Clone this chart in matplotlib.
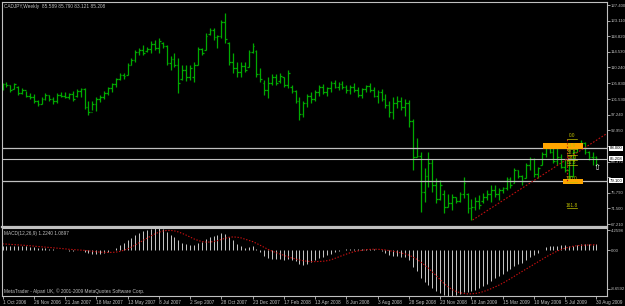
import numpy as np
import matplotlib
matplotlib.use("Agg")
from matplotlib import pyplot as plt

# weekly CADJPY bars, week index 0 = 1 Oct 2006, last = 30 Aug 2009
highs = [106.0, 106.2, 105.4, 106.0, 105.2, 104.6, 103.8, 103.2, 103.0, 101.3,
         102.1, 103.2, 102.7, 102.1, 103.2, 103.5, 103.5, 103.2, 103.8, 104.3,
         104.6, 104.6, 101.0, 101.0, 102.1, 102.7, 103.8, 104.9, 106.0, 107.3,
         108.7, 108.7, 111.5, 112.8, 115.0, 115.6, 116.4, 115.8, 117.5, 117.8,
         118.3, 117.2, 116.4, 113.4, 114.2, 112.8, 110.9, 110.9, 110.9, 111.7,
         115.8, 115.6, 119.7, 121.1, 121.1, 119.2, 123.3, 125.2, 117.2, 114.2,
         111.7, 111.7, 111.7, 115.0, 117.0, 115.0, 110.1, 106.8, 107.6, 108.4,
         108.4, 108.7, 107.6, 109.5, 105.4, 104.0, 102.1, 101.0, 103.0, 103.5,
         104.0, 105.4, 105.6, 105.0, 106.5, 106.8, 106.2, 106.5, 105.5, 105.5,
         106.0, 105.0, 104.5, 105.5, 106.0, 105.0, 104.0, 104.2, 103.0, 101.0,
         102.0, 102.5, 102.0, 101.5, 101.3, 96.0, 90.8, 87.0, 82.5, 87.0,
         85.0, 79.8, 79.3, 76.5, 75.5, 75.5, 74.6, 76.0, 80.1, 75.8,
         74.1, 74.6, 75.2, 75.7, 76.5, 77.9, 77.9, 77.1, 77.4, 80.1,
         80.1, 82.6, 82.0, 80.7, 84.0, 85.6, 85.3, 82.9, 87.0, 88.9,
         89.5, 88.0, 88.4, 86.5, 85.0, 84.8, 87.5, 89.5, 90.3, 89.8,
         87.4, 87.0, 85.790]
lows = [104.0, 104.9, 103.5, 104.2, 102.7, 103.0, 102.1, 101.6, 100.5, 99.6,
        100.2, 101.3, 101.0, 100.2, 100.5, 102.1, 101.8, 101.6, 101.0, 102.1,
        102.1, 98.8, 97.2, 98.5, 98.3, 100.7, 101.6, 102.7, 103.5, 104.9,
        106.8, 107.1, 108.2, 110.9, 111.7, 113.7, 113.7, 114.5, 114.2, 115.0,
        114.2, 115.6, 110.9, 109.5, 110.4, 103.2, 106.8, 106.5, 106.8, 106.2,
        110.9, 113.7, 115.0, 119.2, 117.8, 115.6, 118.3, 117.0, 110.9, 108.7,
        107.6, 107.6, 109.0, 110.4, 114.2, 107.6, 106.2, 102.7, 101.8, 105.4,
        105.4, 106.0, 104.9, 104.6, 103.2, 100.5, 95.8, 96.5, 99.5, 100.5,
        101.0, 102.5, 103.0, 102.5, 103.5, 104.5, 104.0, 104.2, 103.2, 103.0,
        103.5, 102.0, 101.8, 103.5, 103.5, 102.0, 100.5, 101.0, 99.0, 96.5,
        96.0, 99.0, 98.5, 97.0, 94.0, 82.0, 85.6, 70.5, 73.3, 77.4,
        76.0, 73.0, 73.8, 70.2, 71.9, 71.0, 73.0, 73.3, 74.4, 70.2,
        68.3, 71.1, 71.3, 73.0, 73.8, 73.3, 74.6, 73.8, 75.7, 76.6,
        77.1, 78.5, 79.8, 77.9, 79.8, 82.0, 80.1, 79.8, 83.4, 85.6,
        86.7, 84.0, 83.4, 82.5, 81.5, 78.8, 80.0, 87.0, 88.1, 86.5,
        84.8, 83.4, 83.121]
opens = [104.5, 105.6, 105.3, 104.2, 105.0, 103.2, 104.0, 102.5, 102.0, 101.0,
         100.2, 101.6, 102.6, 101.5, 101.0, 102.8, 102.5, 102.0, 102.9, 102.3,
         103.9, 104.2, 99.5, 98.0, 100.2, 101.5, 102.2, 103.3, 104.5, 105.6,
         107.0, 108.2, 108.2, 111.0, 112.4, 114.5, 115.0, 114.8, 115.4, 116.8,
         115.5, 117.0, 116.2, 111.5, 112.5, 111.0, 107.0, 109.5, 107.5, 107.5,
         110.9, 115.2, 115.0, 119.5, 120.5, 118.5, 118.8, 122.8, 117.0, 111.8,
         110.0, 109.0, 110.5, 110.4, 114.5, 114.8, 108.5, 106.0, 104.0, 106.0,
         107.5, 106.5, 107.5, 105.5, 105.0, 103.8, 101.0, 97.5, 100.5, 102.5,
         101.5, 103.5, 104.8, 103.5, 104.5, 106.0, 105.0, 105.8, 104.8, 104.0,
         105.0, 104.0, 102.8, 104.2, 105.2, 104.0, 102.5, 103.5, 101.5, 100.0,
         98.0, 100.5, 101.0, 99.5, 100.5, 95.5, 85.5, 86.0, 76.0, 80.5,
         84.0, 78.0, 74.0, 75.5, 72.0, 73.0, 74.5, 73.5, 75.5, 75.5,
         71.5, 72.0, 73.5, 73.5, 74.5, 75.5, 76.5, 75.5, 76.5, 77.0,
         79.5, 78.5, 82.0, 80.5, 79.8, 83.5, 85.0, 81.0, 83.4, 86.5,
         88.0, 87.0, 84.5, 85.5, 83.0, 82.0, 80.5, 87.0, 88.5, 89.5,
         87.0, 85.5, 85.589]
closes = [105.6, 105.3, 104.0, 105.6, 103.2, 104.0, 102.5, 102.0, 101.0, 100.2,
          101.6, 102.6, 101.5, 101.0, 102.8, 102.5, 102.0, 102.9, 101.5, 103.9,
          104.2, 99.5, 98.0, 100.2, 101.5, 102.2, 103.3, 104.5, 105.6, 107.0,
          108.2, 107.8, 111.0, 112.4, 114.5, 115.0, 114.2, 115.4, 116.8, 115.5,
          117.5, 116.2, 111.5, 112.5, 111.0, 106.0, 109.5, 107.5, 110.0, 110.9,
          115.2, 114.2, 119.0, 120.5, 118.5, 118.8, 122.8, 118.0, 111.8, 110.0,
          109.0, 110.5, 109.6, 114.5, 116.0, 108.5, 107.0, 104.0, 106.0, 107.5,
          106.0, 108.0, 105.5, 108.8, 103.8, 101.0, 97.5, 100.5, 102.5, 101.5,
          103.5, 104.8, 103.5, 104.5, 106.0, 105.0, 105.8, 104.8, 104.0, 105.0,
          104.0, 102.8, 104.2, 105.2, 104.0, 102.5, 103.5, 101.5, 100.0, 98.0,
          100.5, 101.0, 99.5, 100.5, 95.5, 85.5, 86.0, 76.0, 80.5, 84.0,
          78.0, 74.0, 78.0, 72.0, 73.0, 74.5, 73.5, 75.5, 78.5, 71.5,
          72.0, 73.5, 72.5, 74.5, 75.5, 76.5, 75.5, 76.5, 77.0, 79.5,
          78.0, 82.0, 80.5, 79.0, 83.5, 85.0, 81.0, 82.5, 86.5, 88.0,
          87.0, 84.5, 85.5, 83.0, 82.0, 80.5, 87.0, 88.5, 89.5, 87.0,
          85.5, 85.6, 85.208]

# MACD(12,26,9): main line drawn as histogram, signal as dotted line
macd_main = [0.9, 0.9, 0.85, 0.85, 0.8, 0.8, 0.75, 0.7, 0.6, 0.5,
             0.4, 0.4, 0.3, 0.2, 0.15, 0.1, 0.0, -0.05, -0.1, 0.0,
             0.05, -0.3, -0.55, -0.65, -0.65, -0.6, -0.45, -0.25, 0.05, 0.45,
             0.95, 1.35, 1.9, 2.45, 3.0, 3.4, 3.7, 3.95, 4.15, 4.2598,
             4.2, 4.0, 3.5, 3.0, 2.6, 1.9, 1.5, 1.2, 1.05, 1.0,
             1.4, 1.6, 2.1, 2.6, 2.8, 2.9, 3.3, 3.2, 2.6, 1.9,
             1.3, 0.9, 0.5, 0.6, 0.8, 0.3, -0.3, -1.0, -1.4, -1.6,
             -1.7, -1.7, -1.8, -1.6, -1.8, -2.1, -2.6, -2.7, -2.5, -2.2,
             -1.9, -1.5, -1.2, -0.9, -0.6, -0.3, -0.1, 0.1, 0.2, 0.3,
             0.3, 0.2, 0.2, 0.3, 0.3, 0.2, 0.0, -0.2, -0.5, -0.9,
             -1.0, -1.0, -1.2, -1.3, -1.9, -3.2, -4.0, -5.3, -6.0, -6.5,
             -7.2, -7.8, -8.1, -8.5, -8.6592, -8.6, -8.5, -8.3, -7.9, -7.9,
             -7.8, -7.5, -7.2, -6.8, -6.3, -5.8, -5.3, -4.9, -4.5, -4.0,
             -3.5, -3.0, -2.6, -2.3, -1.8, -1.2, -0.9, -0.5, 0.1, 0.6,
             0.8, 0.9, 0.9, 1.0, 1.1, 0.8, 0.9, 1.1, 1.2, 1.2,
             1.2, 1.1, 1.224]
macd_signal = [1.25, 1.2, 1.15, 1.1, 1.05, 1.0, 0.95, 0.9, 0.82, 0.75,
               0.69, 0.64, 0.58, 0.52, 0.44, 0.37, 0.29, 0.22, 0.16, 0.11,
               0.07, 0.01, -0.08, -0.17, -0.25, -0.32, -0.36, -0.38, -0.37, -0.33,
               -0.19, 0.02, 0.31, 0.65, 1.05, 1.48, 1.92, 2.35, 2.76, 3.13,
               3.45, 3.68, 3.8, 3.8, 3.71, 3.51, 3.23, 2.91, 2.55, 2.19,
               1.91, 1.69, 1.59, 1.59, 1.69, 1.85, 2.08, 2.32, 2.5, 2.56,
               2.52, 2.39, 2.16, 1.91, 1.68, 1.34, 0.96, 0.56, 0.19, -0.13,
               -0.42, -0.67, -0.93, -1.2, -1.43, -1.63, -1.81, -1.96, -2.06, -2.11,
               -2.13, -2.1, -2.06, -1.96, -1.79, -1.53, -1.24, -0.96, -0.69, -0.44,
               -0.24, -0.09, 0.03, 0.13, 0.2, 0.23, 0.22, 0.18, 0.09, -0.04,
               -0.18, -0.31, -0.48, -0.66, -0.89, -1.24, -1.67, -2.2, -2.77, -3.38,
               -4.07, -4.8, -5.56, -6.29, -6.9, -7.41, -7.76, -8.02, -8.17, -8.25,
               -8.25, -8.18, -8.04, -7.83, -7.58, -7.28, -6.94, -6.61, -6.23, -5.81,
               -5.37, -4.9, -4.43, -3.99, -3.54, -3.09, -2.64, -2.2, -1.74, -1.29,
               -0.87, -0.48, -0.12, 0.19, 0.44, 0.63, 0.79, 0.9, 0.97, 1.01,
               1.04, 1.07, 1.0897]

date_idx = list(range(0, 153, 8))
date_labels = ["1 Oct 2006", "26 Nov 2006", "21 Jan 2007", "18 Mar 2007", "13 May 2007",
               "8 Jul 2007", "2 Sep 2007", "28 Oct 2007", "23 Dec 2007", "17 Feb 2008",
               "13 Apr 2008", "8 Jun 2008", "3 Aug 2008", "28 Sep 2008", "23 Nov 2008",
               "18 Jan 2009", "15 Mar 2009", "10 May 2009", "5 Jul 2009", "30 Aug 2009"]
price_ticks = [127.400, 123.110, 118.820, 114.530, 110.240, 105.830, 101.530, 97.240,
               92.950, 88.660, 84.370, 80.080, 75.790, 71.500, 67.210]
hidden_ticks = [88.660, 80.080]   # covered by the line labels
hlines = [88.00, 79.10]
bid = 85.208

# objects drawn on the chart
trend_x = [120.3, 154.7]
trend_y = [68.3, 92.1]
fib_x = 144.4
fib_hi, fib_lo = 90.6, 78.8
fib_levels = [0.0, 23.6, 38.2, 50.0, 61.8, 100.0, 161.8]
rects = [(138.3, 148.5, 87.7, 89.5), (143.4, 148.5, 78.2, 79.7)]
arrow_at = (152.1, 82.8)

FG = "#c0c0c0"
BAR = "#00aa00"
FIB = "#c0c000"
RED = "#c01010"
plt.rcParams["font.family"] = ["Liberation Sans", "DejaVu Sans"]
FS = 3.4

fig = plt.figure(figsize=(6.25, 3.06), dpi=100, facecolor="black")
W, H = 625.0, 306.0

ax = fig.add_axes([2 / W, 1 - 227 / H, 605 / W, 225 / H], facecolor="black")
mx = fig.add_axes([2 / W, 1 - 296 / H, 605 / W, 68 / H], facecolor="black")

n = len(highs)
x = np.arange(n)
ppx = (127.4 - 67.21) / 219.0
ax.set_ylim(67.21 - 3 * ppx, 127.4 + 3 * ppx)
xl = (-0.13, 154.7)
ax.set_xlim(*xl)
mx.set_xlim(*xl)

# OHLC bars
ax.vlines(x, lows, highs, color=BAR, lw=0.9)
ax.hlines(opens, x - 0.45, x, color=BAR, lw=0.9)
ax.hlines(closes, x, x + 0.45, color=BAR, lw=0.9)

for h in hlines:
    ax.axhline(h, color=FG, lw=0.9)
ax.axhline(bid, color=FG, lw=0.8)

# trendline, rectangles, fibo
ax.plot(trend_x, trend_y, color=RED, lw=0.8, ls=(0, (1.5, 1.5)))
for x0, x1, y0, y1 in rects:
    ax.add_patch(plt.Rectangle((x0, y0), x1 - x0, y1 - y0, color="#ffa500", lw=0, zorder=3))
ax.plot([fib_x, fib_x], [fib_hi, fib_lo], color=RED, lw=0.8, ls=(0, (1.5, 1.5)), zorder=4)
for lv in fib_levels:
    p = fib_hi - lv / 100.0 * (fib_hi - fib_lo)
    ax.plot([fib_x, fib_x + 2.6], [p, p], color=FIB, lw=0.5, zorder=4)
    ax.text(fib_x + 1.3, p + 0.15, "%.1f" % lv, color=FIB, fontsize=FS,
            ha="center", va="bottom", zorder=5)
ax.text(arrow_at[0], arrow_at[1], "\u21e7", color="white", fontsize=6,
        ha="center", va="center", family="DejaVu Sans")

ax.text(0.003, 0.99, "CADJPY,Weekly  85.589 85.790 83.121 85.208", transform=ax.transAxes,
        color=FG, fontsize=FS, ha="left", va="top")

ax.yaxis.tick_right()
ax.set_yticks(price_ticks)
ax.set_yticklabels(["" if v in hidden_ticks else "%.3f" % v for v in price_ticks])
ax.tick_params(axis="y", colors=FG, labelsize=3.1, length=2, width=0.6, pad=0.8)
ax.set_xticks([])
for v in hlines[:1] + [bid] + hlines[1:]:
    ax.text(1.0045, v, "%.3f" % v, transform=ax.get_yaxis_transform(), color="black",
            fontsize=3.1, ha="left", va="center",
            bbox=dict(facecolor="white", edgecolor="none", pad=0.3))

# MACD panel
mtop, mbot = 4.2598, -8.6592
mpp = (mtop - mbot) / 68.0
mx.set_ylim(mbot, mtop)
mx.vlines(x, 0, macd_main, color="#c8c8c8", lw=0.7)
mx.plot(x, macd_signal, color="#d01010", lw=0.8, ls=(0, (1.2, 1.5)))
mx.yaxis.tick_right()
mx.set_yticks([mtop - 2 * mpp, 0.0, mbot + 7 * mpp])
mx.set_yticklabels(["%.4f" % mtop, "0.00", "%.4f" % mbot])
mx.tick_params(axis="y", colors=FG, labelsize=3.1, length=2, width=0.6, pad=0.8)
mx.set_xticks(date_idx)
mx.set_xticklabels(date_labels)
mx.tick_params(axis="x", colors=FG, labelsize=FS, length=2, width=0.6, pad=1)
for t in mx.get_xticklabels():
    t.set_ha("left")
mx.text(0.003, 0.95, "MACD(12,26,9) 1.2240 1.0897", transform=mx.transAxes,
        color=FG, fontsize=FS, ha="left", va="top")
mx.text(0.003, 0.03, "MetaTrader - Alpari UK, \u00a9 2001-2009 MetaQuotes Software Corp.",
        transform=mx.transAxes, color=FG, fontsize=FS, ha="left", va="bottom")

for a in (ax, mx):
    for s in a.spines.values():
        s.set_color(FG)
        s.set_linewidth(0.8)
ax.spines["bottom"].set_linewidth(1.6)

fig.savefig("out.png", dpi=100, facecolor="black")
